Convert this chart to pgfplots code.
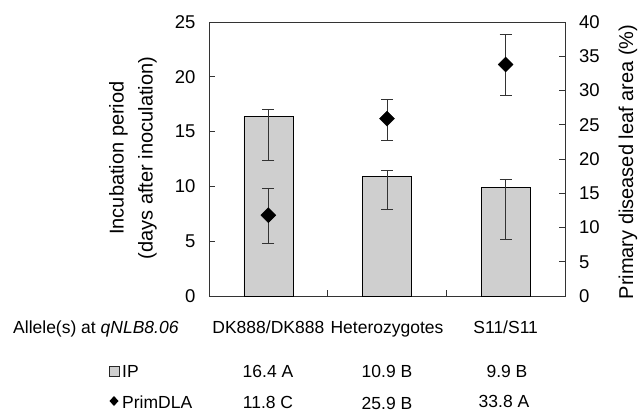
\documentclass[border=0pt]{standalone}
\usepackage{fontspec}
\setmainfont{Liberation Sans}
\usepackage{pgfplots}
\pgfplotsset{compat=1.18}
\definecolor{bargray}{HTML}{CFCFCF}
\definecolor{axgray}{HTML}{333333}

\begin{document}
\begin{tikzpicture}[font=\fontsize{17.5}{21}\selectfont]
\useasboundingbox (0,0) rectangle (638pt,-412pt);
\pgfplotsset{
  common/.style={
    scale only axis, width=356pt, height=274pt,
    at={(209pt,-296pt)}, anchor=south west,
    xmin=-0.5, xmax=2.5,
    axis line style={axgray, line width=0.9pt},
    tick style={axgray, line width=0.8pt},
    major tick length=6pt,
    tick align=inside,
    tick label style={font=\fontsize{18.5}{22}\selectfont},
    /pgf/number format/assume math mode=true,
  },
  errs/.style={
    error bars/.cd, y dir=both, y explicit,
    error bar style={axgray, line width=0.8pt},
    error mark options={rotate=90, mark size=6pt, axgray, line width=0.8pt},
  },
}
% left axis: incubation period (bars)
\begin{axis}[common,
  ymin=0, ymax=25, ytick={0,5,...,25}, ytick pos=left,
  yticklabel style={xshift=-10pt},
  xtick={0.5,1.5}, xticklabels={}, xtick pos=left,
  extra x ticks={0,1,2},
  extra x tick labels={DK888/DK888, Heterozygotes, S11/S11},
  extra x tick style={tick style={draw=none},
    xticklabel style={font=\fontsize{17.5}{21}\selectfont, anchor=base, yshift=-37pt}},
]
\addplot[ybar, bar width=49pt, fill=bargray, draw=black, line width=0.6pt, errs]
coordinates {
  (0,16.4) += (0,0.6) -= (0,4.0)
  (1,10.9) += (0,0.55) -= (0,3.0)
  (2,9.9)  += (0,0.7) -= (0,4.7)
};
\end{axis}
% right axis: primary diseased leaf area (diamonds)
\begin{axis}[common,
  ymin=0, ymax=40, ytick={0,5,...,40},
  axis y line*=right, hide x axis,
  yticklabel style={xshift=10.5pt},
]
\addplot[only marks, mark=square*, mark size=5.3pt,
  mark options={rotate=45, fill=black, draw=black}, errs]
coordinates {
  (0,11.8) += (0,3.9) -= (0,4.1)
  (1,25.9) += (0,2.8) -= (0,3.2)
  (2,33.8) += (0,4.4) -= (0,4.5)
};
\end{axis}
% axis titles
\node[rotate=90, align=center, font=\fontsize{20}{29}\selectfont]
  at (133pt,-158pt) {Incubation period\\(days after inoculation)};
\node[rotate=90, font=\fontsize{20}{24}\selectfont]
  at (628pt,-162pt) {Primary diseased leaf area (\%)};
% table beneath the chart
\node[anchor=base west, inner sep=0pt] at (13pt,-333pt) {Allele(s) at \textit{qNLB8.06}};
\draw[black!85, fill=bargray, line width=0.5pt] (109pt,-376pt) rectangle (119pt,-366pt);
\node[anchor=base west, inner sep=0pt] at (122pt,-377pt) {IP};
\fill[black] (114pt,-396pt) -- (118.5pt,-401pt) -- (114pt,-406pt) -- (109.5pt,-401pt) -- cycle;
\node[anchor=base west, inner sep=0pt] at (122pt,-408pt) {PrimDLA};
\node[anchor=base, inner sep=0pt] at (268pt,-377pt) {16.4 A};
\node[anchor=base, inner sep=0pt] at (387pt,-377pt) {10.9 B};
\node[anchor=base, inner sep=0pt] at (507pt,-377pt) {9.9 B};
\node[anchor=base, inner sep=0pt] at (268pt,-408pt) {11.8 C};
\node[anchor=base, inner sep=0pt] at (387pt,-409.5pt) {25.9 B};
\node[anchor=base, inner sep=0pt] at (504pt,-407pt) {33.8 A};
\end{tikzpicture}
\end{document}
